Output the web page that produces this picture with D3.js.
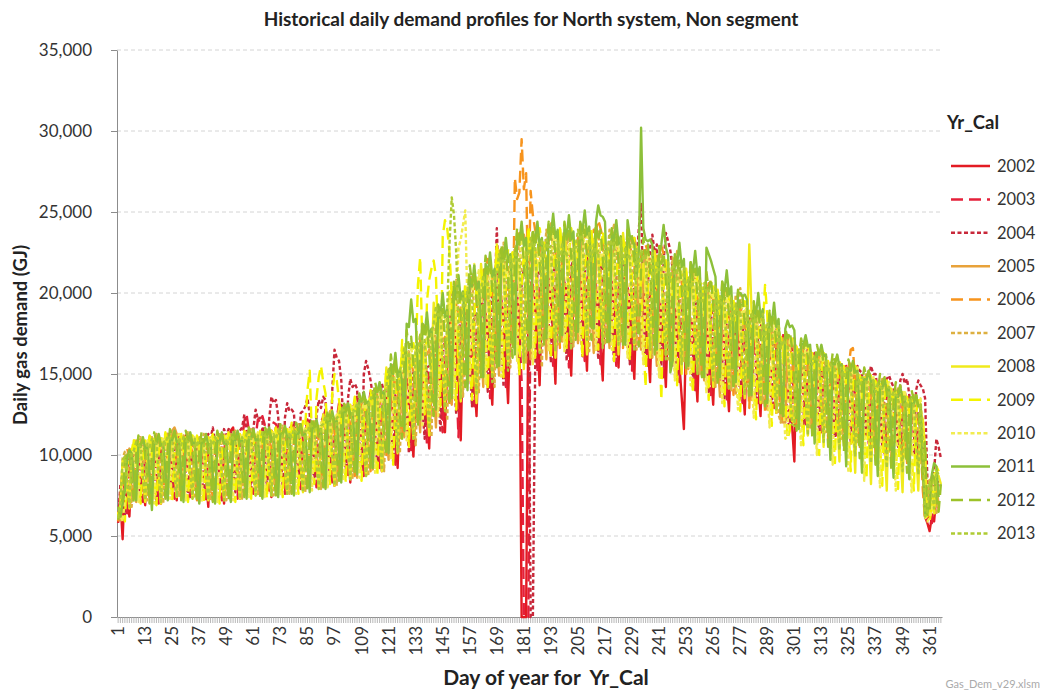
<!DOCTYPE html>
<html><head><meta charset="utf-8">
<script src="https://cdn.jsdelivr.net/npm/d3@7"></script>
<style>
body{margin:0;background:#fff;}
text{font-family:Lato,"Open Sans",sans-serif;}
</style>
</head><body>
<svg id="chart" width="1043" height="691"></svg>
<script>
const years = ["2002","2003","2004","2005","2006","2007","2008","2009","2010","2011","2012","2013"];
const colors = ["#E31B23","#E5203A","#C8283A","#E8A23A","#F7941D","#DDB040","#F0EA1C","#F4F400","#F2EC50","#8DC03A","#9DC229","#AFCB33"];
const dashes = [null,"12,6","4,2.5",null,"12,6","4,2.5",null,"12,6","4,2.5",null,"12,6","4,2.5"];
const yTicks = [0,5000,10000,15000,20000,25000,30000,35000];
const xLabelDays = [1,13,25,37,49,61,73,85,97,109,121,133,145,157,169,181,193,205,217,229,241,253,265,277,289,301,313,325,337,349,361];

const y2002 = [
6000,7200,4800,8500,7500,6200,9200,
10400,10800,10500,9900,8400,6900,10300,
11100,10600,10900,10100,8800,7000,10000,
10700,11300,11000,10400,8600,7200,10600,
11000,10500,11200,10300,9000,7500,9900,
10500,10800,10400,10000,8500,6800,10300,
11200,10700,11000,10200,8800,7000,10400,
11000,11500,11700,10800,9100,7300,10400,
11400,10800,11200,10700,9300,7700,10500,
11100,11600,11300,10600,9000,7400,11000,
11700,11100,11500,10900,9400,7600,10800,
11400,11800,11200,11000,9200,7900,11200,
12100,11600,11900,11300,9800,8000,11100,
12500,11900,12300,11600,9700,8100,12000,
12700,13100,12600,12100,10400,8300,12300,
13300,12800,13100,12400,10500,8800,12600,
13600,13100,13800,12800,10800,9000,12700,
13500,14000,13600,13000,11300,9200,13200,
14900,14300,14700,14000,12000,9900,13900,
15000,15500,15100,14600,12700,10400,14700,
16600,16000,16700,15600,13300,11400,15500,
17600,19600,18400,16800,14400,10900,17200,
18100,17400,18000,17600,14600,12400,17000,
18500,19000,18700,17800,15300,13100,18200,
19600,18800,19400,18700,16000,13200,18400,
19700,20300,19500,19100,0,0,0,
19300,19800,20400,19600,17000,14300,19700,
20800,20100,20600,19600,17400,14400,20200,
20400,20900,20600,20100,17200,14900,19800,
21000,20500,21200,19900,17800,15200,20300,
20300,20800,20100,19700,16800,14600,20000,
20700,19900,20400,19600,17500,15400,19700,
20000,20500,20300,19900,17000,14700,20100,
20100,19500,19800,19200,16800,14500,19600,
19300,19700,19500,18700,16500,14200,18800,
19200,18600,19000,18500,15600,13600,11600,
17800,18500,18300,18000,15700,13300,18200,
18100,17500,17900,17200,15100,13100,17700,
17600,18000,17700,17400,14800,12700,17200,
17500,16900,17300,16700,14700,12500,17000,
17000,17300,17100,16800,14400,12400,16600,
17600,17100,17700,16900,14800,12600,17000,
16700,17100,16800,16300,14200,11800,9600,
16500,15900,16400,15700,13500,11500,16000,
15700,16100,15800,15500,13300,11300,15300,
15600,15000,15400,14900,12700,10900,15100,
14900,15300,15100,14500,12700,10600,14800,
14800,14200,14600,14100,12100,10400,14300,
14000,14400,14200,13800,11900,10000,13700,
13900,13300,13700,13100,11400,9700,13400,
13000,13400,13200,12800,10900,9400,12700,
10500,6200,5800,5300,6200,5900,7500,
8200];

const y2003 = [
5800,7800,8900,7600,6400,9300,9900,
10300,10800,10000,8600,7100,10100,10700,
11000,10600,10300,8900,7000,10200,10800,
10800,11300,10400,9100,7300,10600,10900,
11100,10700,10600,8800,7400,10200,11000,
10600,11000,10200,8900,7100,10500,10600,
11200,10800,10700,8700,7200,10300,11100,
10900,11400,10500,9000,7300,10800,10900,
12100,12500,11500,9400,7600,11100,12200,
12000,12400,11900,9300,7800,11500,12000,
11900,11600,11400,9400,7600,11000,11800,
11500,12000,11100,9500,7900,11300,11400,
12200,11800,11600,9600,8000,11200,12100,
12300,12800,11900,10100,8100,12100,12200,
13200,12700,12600,10300,8700,12100,13000,
13100,13600,12700,10800,8700,12800,13000,
13900,13500,13300,10900,9200,12800,13700,
13700,14200,13200,11500,9400,13500,13600,
15000,14500,14400,12100,10300,14000,14900,
15300,15800,14800,12900,10700,15100,15200,
16900,16400,16300,13600,11400,15800,16800,
17700,18300,17100,14800,11100,17000,18000,
18800,18300,18200,15300,13000,17700,18700,
19200,19800,18600,16200,13500,19000,19100,
20400,19900,19800,16700,14200,19300,20300,
20700,21300,20100,17500,14600,0,0,
0,20800,20600,17600,15100,20200,21300,
21500,21000,20900,17900,15500,20500,21400,
21100,21800,20600,18400,15400,21100,21200,
21800,21200,21100,18100,15800,20700,21700,
21000,21600,20500,18300,15600,20900,21000,
21400,20800,20700,17800,15500,20200,21300,
20700,21300,20200,18000,15200,20600,20700,
20900,20400,20300,17600,15500,19800,20800,
19900,20500,19300,17400,14800,19700,19800,
19800,19300,19200,16600,14500,18800,19700,
19000,19600,18400,16400,14000,18900,18900,
18900,18400,18200,15700,13700,17800,18800,
18200,18700,17600,15700,13300,18000,18100,
18300,17800,17600,15200,13200,17200,18200,
18000,18600,17400,15600,13200,17800,17900,
17800,17300,17200,14800,12900,16800,17700,
16800,17400,16200,14400,12100,12000,17100,
16600,16200,16000,13700,11900,15600,16500,
15800,16300,15200,13600,11400,15600,15700,
15700,15300,15100,12900,11200,14700,15600,
15000,15500,14400,12900,10800,14800,14900,
14900,14500,14300,12300,10700,13900,14800,
14100,14600,13500,12100,10100,13900,14000,
14000,13600,13400,11500,10000,13000,13900,
13100,13600,12500,11300,9500,12800,13000,
10800,6400,6000,6300,5800,7600,8200,
8400];

const y2004 = [
5900,8200,7400,6300,9100,9800,10100,
10400,10000,8600,7100,10300,10800,10400,
11000,10300,8900,7000,10200,11000,10600,
10900,10700,8900,7600,10800,10900,11100,
11200,10400,9000,7200,10300,11100,10700,
11100,10900,8900,7500,11000,11300,11000,
11700,10800,9200,7400,10800,11600,11200,
11600,11500,9100,7700,11400,11500,11700,
12500,11500,9600,7700,11600,12800,12200,
12300,12200,9600,8100,12200,13600,13200,
13400,12400,10100,8100,12300,13200,12700,
12800,12600,9900,8300,12600,12700,13000,
13500,12500,10300,8200,12400,13400,12900,
13600,13400,10400,8600,14000,16500,16000,
15800,14600,11600,8900,13500,14700,14200,
14400,14100,11200,9200,15000,15800,15300,
14600,13600,11400,9200,13500,14400,13900,
13800,13600,11300,9600,13700,13800,14100,
15100,14000,12300,10100,14200,15100,14600,
15500,15200,12900,11000,15400,15500,15800,
17100,16000,13900,11400,16200,17100,16600,
18000,17700,14800,12500,17500,18400,17900,
19100,18000,15700,13000,18600,18700,19000,
19500,19300,16300,13900,19000,19900,19400,
24000,19600,17100,14200,20300,20200,20700,
21100,20900,17600,15100,20600,21500,21000,
21600,0,0,15100,21300,21200,21700,
21600,21400,18200,15700,21000,22000,21500,
22200,20900,18600,15800,21700,21600,22100,
21700,21600,18500,16100,21200,22300,21700,
22100,20800,18600,15900,21600,21500,22000,
21300,21200,18200,15800,20800,21900,21300,
21800,20500,18300,15600,21300,21200,21700,
24000,25500,19500,15600,20400,22800,23600,
22500,23000,18800,15500,22000,23700,23200,
22600,21500,17800,14600,20000,20400,20300,
19800,18600,16700,14200,19300,19400,19700,
18800,18600,15900,13900,18300,19300,18700,
19100,17900,15900,13500,18600,18500,19000,
18100,17900,15400,13400,17600,18500,18000,
18500,17200,15500,13100,18000,17900,18400,
17400,17200,14700,12800,16900,17800,17300,
17300,16000,14300,12000,11800,16800,17200,
16200,16000,13600,11800,15800,16600,16100,
16200,15100,13500,11300,15800,15700,16100,
15300,15100,12800,11100,14900,15700,15200,
15400,14300,12800,10700,15000,15000,15500,
15200,15100,12700,11100,14700,15500,15000,
15000,14000,12400,10500,14600,14700,14900,
14500,14200,12100,10500,14600,15000,14400,
14700,13700,12100,10100,14000,14600,14300,
14100,13500,8500,7000,6800,9000,11000,
10500,9800];

const y2005 = [
6500,6000,7200,8000,10000,10400,10200,
8600,7100,10100,10700,10400,10800,10100,
8900,7000,10300,11000,10600,10900,10200,
9000,7300,10500,11500,11700,11300,10500,
8800,7400,10400,11100,10700,11000,10400,
8900,7100,10300,10900,10500,11000,10300,
8700,7300,10400,11000,10700,11100,10400,
9000,7200,10500,11200,10800,11100,10600,
9200,7600,10600,11300,10900,11200,10700,
9000,7400,10700,11400,11000,11300,10600,
9300,7700,10800,11500,11100,11400,10900,
9200,7600,10900,11600,11200,11500,10800,
9700,8000,11200,11900,11500,11800,11200,
9800,8000,11700,12400,12000,12300,11700,
10400,8600,12200,12900,12500,12800,12200,
10500,8600,12500,13200,12800,13100,12500,
11000,9100,12900,13600,13200,13500,12900,
11700,9700,13800,14500,14100,14400,13800,
13200,11100,15500,16200,15800,16100,15500,
13600,11400,15900,16600,16200,16500,15900,
14400,11700,16700,17400,17000,17300,16700,
15800,13100,18500,19200,18800,19100,18500,
17100,14400,20300,21000,20600,20900,20300,
16900,14200,19500,20200,19800,20100,19500,
17800,14900,21000,21700,21300,21600,21000,
19500,16600,23000,23700,23300,23600,23000,
18800,15900,22000,22700,22300,22600,22000,
18700,15900,21500,22200,21800,22100,21500,
19700,17000,23000,23700,23300,23600,23000,
19600,16900,22500,23200,22800,23100,22500,
19000,16300,21700,22400,22000,22300,21700,
19300,16600,22100,22800,22400,22700,22100,
19700,17000,22800,23500,23100,23400,22800,
19000,16500,21500,22200,21800,22100,21500,
18000,15500,20600,21300,20900,21200,20600,
18000,15500,20500,21200,20800,21100,20500,
17700,15300,20600,21300,20900,21200,20600,
17000,14600,19400,20100,19700,20000,19400,
15900,13600,18300,19000,18600,18900,18300,
16100,13800,18300,19000,18600,18900,18300,
15600,13400,18000,18700,18300,18600,18000,
14900,12800,17000,17700,17300,17600,17000,
14100,12000,12000,17100,16700,17000,16400,
13800,11800,15800,16500,16100,16400,15800,
13300,11300,15400,16100,15700,16000,15400,
13000,11100,14900,15600,15200,15500,14900,
12600,10700,14600,15300,14900,15200,14600,
12400,10600,14100,14800,14400,14700,14100,
11800,10000,13700,14400,14000,14300,13700,
11600,9900,13200,13900,13500,13800,13200,
11000,9400,12700,13400,13000,13300,12700,
8800,6200,6400,6800,8400,8800,8500,
6800];

const y2006 = [
5900,6500,7500,9900,10300,10100,8400,
7200,10400,10300,10900,10400,9800,8700,
7000,10600,10500,11100,10600,10000,8800,
7400,10800,10700,11300,10800,10200,9000,
7300,10700,10600,11200,10700,10100,8900,
7200,10600,10500,11100,10600,10000,8800,
7200,10700,10600,11200,10700,10100,8800,
7300,10800,10700,11300,10800,10200,8900,
7500,10900,10800,11400,10900,10300,9100,
7500,11000,10900,11500,11000,10400,9100,
7600,11100,11000,11600,11100,10500,9200,
7700,11200,11100,11700,11200,10600,9300,
7900,11500,11400,12000,11500,10900,9600,
8100,12000,11900,12500,12000,11400,9900,
8500,12500,12400,13000,12500,11900,10300,
8700,12800,12700,13300,12800,12200,10600,
9000,13200,13100,13700,13200,12600,10900,
10000,14400,14300,14900,14400,13800,12000,
10900,15600,15600,16200,15700,15100,13100,
12400,17400,17400,18000,17500,16900,14700,
12500,17900,17900,18500,18000,17400,15000,
13000,18600,18700,19300,18800,18200,15800,
14200,20000,20100,20700,20200,19600,17000,
15300,21400,21500,22100,21600,21000,18100,
15500,21700,21800,22400,21900,21300,18400,
16800,27100,25800,26200,29500,26400,27400,
19000,26300,24800,23900,23600,23200,19500,
16900,23200,23200,23800,23300,22700,19800,
16600,22500,22500,23100,22600,22000,19400,
17300,23400,23400,24000,23500,22900,20100,
17800,23900,23900,24500,24000,23400,20500,
17000,23000,23000,23600,23100,22500,19800,
16600,22300,22300,22900,22400,21800,19300,
16900,22400,22400,23000,22500,21900,19500,
16800,22300,22300,22900,22400,21800,19300,
15900,21300,21300,21900,21400,20800,18400,
15000,20100,20100,20700,20200,19600,17500,
14800,20000,20000,20600,20100,19500,17200,
14400,19700,19600,20200,19700,19100,16700,
13700,18600,18500,19100,18600,18000,16000,
12900,17500,17400,18000,17500,16900,15100,
12700,17300,17200,17800,17300,16700,14800,
12100,12000,16600,17200,16700,16100,14200,
11700,16100,16000,16600,16100,15500,13700,
11400,15700,15600,16200,15700,15100,13400,
11000,15200,15100,15700,15200,14600,12900,
10800,14900,15300,16500,16600,14300,12700,
10500,14400,14300,14900,14400,13800,12300,
10100,14000,13900,14500,14000,13400,11900,
9800,13500,13400,14000,13500,12900,11500,
9500,13000,12900,13500,13000,12400,11100,
7800,6000,6300,8200,8700,8500,7600,
6600];

const y2007 = [
6000,6900,9800,10200,10000,8300,6800,
9800,10900,10400,11100,10000,8700,7200,
10000,11100,10600,11300,10200,8800,7000,
10200,11300,10800,11500,10400,9000,7400,
10100,11200,10700,11400,10300,8900,7300,
10000,11100,10600,11300,10200,8800,7200,
10100,11200,10700,11400,10300,8800,7200,
10200,11300,10800,11500,10400,8900,7300,
10300,11400,10900,11600,10500,9100,7500,
10400,11500,11000,11700,10600,9100,7500,
10500,11600,11100,11800,10700,9200,7600,
10600,11700,11200,11900,10800,9300,7700,
10900,12000,11500,12200,11100,9600,7900,
11400,12500,12000,12700,11600,9900,8100,
11900,13000,12500,13200,12100,10300,8500,
12200,13300,12800,13500,12400,10600,8700,
12600,13700,13200,13900,12800,10900,9000,
13500,15300,14400,15700,13800,12100,10100,
14200,16000,15100,16400,14500,12700,10600,
14600,16400,15500,16800,14900,13300,11100,
16500,18300,17400,18700,16800,14600,12100,
18600,20400,19500,20800,18900,16300,13600,
18600,20400,19500,20800,18900,16500,13800,
19000,20800,19900,21200,19300,16900,14200,
20900,22700,21800,23100,21200,18300,15400,
21100,22900,22000,23300,21400,18600,15700,
20500,22300,21400,22700,20800,18300,15400,
22100,23900,23000,24300,22400,19600,16800,
21700,23500,22600,23900,22000,19400,16700,
21200,23000,22100,23400,21500,19100,16400,
21600,23400,22500,23800,21900,19500,16800,
22100,23900,23000,24300,22400,19700,17000,
21300,23100,22200,23500,21600,19200,16500,
20300,22100,21200,22500,20600,18500,16000,
20300,22100,21200,22500,20600,18400,15900,
20400,22200,21300,22600,20700,18300,15800,
19300,21100,20200,21500,19600,17400,15000,
18300,20100,19200,20500,18600,16600,14200,
18100,19900,19000,20300,18400,16300,14000,
18100,19900,19000,20300,18400,16400,14100,
16900,18700,17800,19100,17200,15400,13200,
16000,17800,16900,18200,16300,14600,12500,
12000,17200,16700,17400,16300,14200,12100,
15500,16600,16100,16800,15700,13700,11700,
15100,16200,15700,16400,15300,13400,11400,
14600,15700,15200,15900,14800,12900,11000,
14300,15400,14900,15600,14500,12700,10800,
13800,14900,14400,15100,14000,12300,10500,
13400,14500,14000,14700,13600,11900,10100,
12900,14000,13500,14200,13100,11500,9800,
12400,13500,13000,13700,12600,11100,9500,
10600,6100,6400,8600,8400,7300,6300,
8000];

const y2008 = [
6200,7000,9600,9800,8200,6700,10000,
10900,10100,10800,9800,8600,7100,10000,
11100,10300,11000,10000,8700,7000,10200,
11300,10500,11200,10200,9000,7400,10400,
11200,10400,11100,10100,8900,7300,10300,
11100,10300,11000,10000,8800,7200,10200,
11200,10400,11100,10100,8800,7200,10300,
11300,10500,11200,10200,8900,7300,10400,
11400,10600,11300,10300,9100,7500,10500,
11500,10700,11400,10400,9100,7500,10600,
11600,10800,11500,10500,9200,7600,10700,
11700,10900,11600,10600,9300,7700,10800,
12000,11200,11900,10900,9600,7900,11100,
12500,11700,12400,11400,9900,8100,11600,
13000,12200,12900,11900,10300,8500,12100,
13300,12500,13200,12200,10600,8700,12400,
13700,12900,13600,12600,10900,9000,12800,
15400,13900,15100,13500,12100,10100,13900,
16700,15200,16400,14800,13200,11000,15200,
16700,15200,16500,14800,13300,11200,15200,
19400,17900,19100,17500,15400,12800,17900,
20100,18600,19800,18200,16000,13300,18600,
19700,18200,19400,17800,15800,13200,18200,
21800,20300,21500,19900,17600,14900,20300,
23000,21500,22700,21100,18600,15600,21500,
22500,21000,22200,20600,18200,15300,21000,
23800,22300,23500,21900,19400,16400,22300,
22900,21400,22600,21000,19300,16000,21400,
24000,22500,23700,22100,19800,17000,22500,
22900,21400,22600,21000,18900,16200,21400,
23800,22300,23500,21900,19700,17000,22300,
22900,21400,22600,21000,18900,16200,21400,
23700,22200,23400,21800,19500,16800,22200,
22100,20600,21800,20200,18400,16000,20600,
22600,21100,22300,20700,18700,16200,21100,
21200,19700,20900,19300,17400,15000,19700,
21500,20000,21200,19600,17700,15200,20000,
20200,18700,19900,18300,16500,14200,18700,
20200,18700,19900,18300,16500,14100,18700,
19200,17700,18900,17300,15700,13500,17700,
23000,18900,18600,16900,15500,13200,17400,
18000,16500,17700,16100,14700,12600,16500,
17200,16400,17100,16100,14200,12100,12000,
16600,15800,16500,15500,13700,11200,15700,
16200,15400,16100,15100,13100,10500,15300,
15700,14900,15600,14600,12400,9600,14800,
15400,14600,15300,14300,11900,8900,14500,
14900,14100,14800,13800,11300,8200,14000,
14500,13700,14400,13400,10800,7800,13600,
14000,13200,13900,12900,10500,7700,13100,
13500,12700,13400,12400,10300,7800,12600,
12200,10400,6300,6500,7000,6400,8900,
8700,8200];

const y2009 = [
6300,6800,6400,5900,9400,10000,10200,
11000,9900,8600,7000,9800,10900,10400,
11200,10100,8700,6900,10000,11100,10600,
11400,10300,8900,7200,10200,11300,10800,
11300,10200,8800,7100,10100,11200,10700,
11200,10100,8700,7000,10000,11100,10600,
11300,10200,8700,7000,10100,11200,10700,
11400,10300,8800,7100,10200,11300,10800,
11500,10400,9000,7300,10300,11400,10900,
11600,10500,9000,7300,10400,11500,11000,
11700,10600,9100,7400,10500,11600,11100,
12000,10900,9300,7600,10900,12100,11800,
14000,15200,11000,8200,13500,14800,15500,
14500,13800,10500,8200,13800,15000,14600,
13400,12200,10200,8300,11900,13100,12600,
13600,12500,10400,8400,12200,13400,12900,
14000,12900,10700,8700,12600,13800,13300,
15300,13500,11500,9400,13200,15100,14200,
17100,15200,13000,10500,15000,16900,16000,
20500,22200,16500,12500,19500,20800,21500,
22000,21000,16800,13000,23500,24500,24000,
22500,19900,16200,12800,17700,19800,18900,
20600,18700,16000,13400,18600,20500,19600,
21400,19500,16800,14000,19400,21300,20400,
22800,20900,17900,14800,20800,22700,21800,
22500,20600,17800,14900,20500,22400,21500,
24100,22200,19100,16000,22100,24000,23100,
23100,21200,18600,15900,21100,23000,22100,
24100,22200,19400,16500,22100,24000,23100,
23200,21300,18700,16000,21200,23100,22200,
23900,22000,19300,16500,21900,23800,22900,
22800,20900,18400,15800,20800,22700,21800,
23500,21600,18800,15800,21500,23400,22500,
22000,20100,17200,14200,20000,21900,21000,
22300,20400,17300,13400,20300,22200,21300,
21400,19500,16900,14300,19400,21300,20400,
21300,19400,16600,13800,19300,21200,20300,
20700,18800,16100,13400,18700,20600,19700,
20100,18200,15600,13000,18100,20000,19100,
19600,17700,15200,12700,17600,19500,18600,
18900,17000,14600,12200,16900,18800,17900,
20500,18600,14800,11800,16300,18200,17300,
17300,16100,13600,11000,11500,17200,16700,
16700,15500,13000,10600,15500,16700,16200,
16300,15100,12500,10000,15100,16300,15800,
15800,14600,12000,9500,14600,15800,15300,
15500,14300,11600,9000,14300,15500,15000,
15000,13800,11100,8500,13800,15000,14500,
14600,13400,10700,8100,13400,14600,14100,
14100,12900,10400,7900,12900,14100,13600,
13600,12400,10100,7800,12400,13600,13100,
11500,6300,6200,5900,6800,8600,9300,
9000];

const y2010 = [
6100,6300,5900,7200,9800,10200,10300,
10100,8600,7100,9700,11000,10400,10900,
10300,8700,7000,9900,11200,10600,11100,
10500,9000,7300,10100,11400,10800,11300,
10400,8900,7200,10000,11300,10700,11200,
10300,8800,7100,9900,11200,10600,11100,
10400,8800,7100,10000,11300,10700,11200,
10500,8900,7200,10100,11400,10800,11300,
10600,9100,7400,10200,11500,10900,11400,
10700,9100,7400,10300,11600,11000,11500,
10800,9200,7500,10400,11700,11100,11600,
10900,9300,7600,10500,11800,11200,11700,
11200,9600,7800,10800,12100,11500,12000,
11700,9900,8000,11300,12600,12000,12500,
12200,10300,8400,11800,13100,12500,13000,
12500,10600,8600,12100,13400,12800,13300,
12900,10900,8900,12500,13800,13200,13700,
13900,11900,9800,13200,15400,14300,15200,
15200,13100,10900,14500,16700,15600,16500,
16300,14000,11700,15600,17800,16700,17600,
17800,15000,12400,17100,19300,18200,19100,
19500,16500,13500,18800,22800,23300,24200,
25100,19000,14500,19500,21800,20300,21400,
19900,17200,14400,19200,21400,20300,21200,
20400,17500,14700,19700,21900,20800,21700,
22000,18800,15800,21300,23500,22400,23300,
21200,18300,15600,20500,22700,21600,22500,
22300,19400,16400,21600,23800,22700,23600,
21600,19000,16400,20900,23100,22000,22900,
22700,19800,17000,22000,24200,23100,24000,
21600,19000,16400,20900,23100,22000,22900,
22200,19300,16500,21500,23700,22600,23500,
21400,18700,16000,20700,22900,21800,22700,
21100,18300,15600,20400,22600,21500,22400,
20200,17400,14800,19500,21700,20600,21500,
20300,17400,14600,19600,21800,20700,21600,
19800,17000,14300,19100,21300,20200,21100,
19200,16400,13800,18500,20700,19600,20500,
18600,15900,13200,17900,20100,19000,19900,
18100,15400,12800,17400,19600,18500,19400,
17400,14800,12300,16700,18900,17800,18700,
16800,14200,11700,16100,18300,17200,18100,
16400,13500,11000,11200,17300,16700,17200,
15800,13000,10500,15400,16700,16100,16600,
15400,12600,10000,15000,16300,15700,16200,
14900,12000,9400,14500,15800,15200,15700,
14600,11600,8900,14200,15500,14900,15400,
14100,11100,8400,13700,15000,14400,14900,
13700,10700,8000,13300,14600,14000,14500,
13200,10400,7800,12800,14100,13500,14000,
12700,10100,7700,12300,13600,13000,13500,
11000,6200,5900,6100,6800,8800,9200,
8600];

const y2011 = [
6800,6200,7000,7800,9800,10300,10100,
8700,7200,10600,10500,11100,10400,10500,
8600,6600,10700,10700,11300,10600,10700,
8900,7200,11000,10900,11500,10800,10900,
8800,7100,10900,10800,11400,10700,10800,
8700,7000,10800,10700,11300,10600,10700,
8700,7000,10900,10800,11400,10700,10800,
8800,7100,11000,10900,11500,10800,10900,
9000,7300,11100,11000,11600,10900,11000,
9000,7300,11200,11100,11700,11000,11100,
9100,7400,11300,11200,11800,11100,11200,
9200,7500,11400,11300,11900,11200,11300,
9500,7700,11700,11600,12200,11500,11600,
9800,7900,12200,12100,12700,12000,12100,
10200,8300,12700,12600,13200,12500,12600,
10700,8800,13400,13300,13900,13200,13300,
11300,9200,14000,13900,14500,13800,13900,
12300,10100,15600,15000,16300,14800,15300,
14500,11500,18100,17900,19600,18200,18400,
15200,12200,18100,17500,18800,17300,17800,
16000,12800,19300,18700,20000,18500,19000,
16800,13500,20400,19800,21100,19600,20100,
17300,14000,21000,20400,21700,20200,20700,
18000,14800,21800,21200,22500,21000,21500,
18800,15500,22700,22100,23400,21900,22400,
19500,16200,23700,23100,24400,22900,23400,
19700,16600,23700,23100,24400,22900,23400,
20200,17200,24200,23600,24900,23400,23900,
20300,17400,24100,23500,24800,23300,23800,
20500,17600,24400,23800,25100,23600,24100,
21000,17800,24400,25400,24800,24700,24400,
20000,17000,23800,23200,24500,23000,23500,
20000,16800,24500,23500,23300,23000,21000,
22500,30200,24000,23300,23200,23300,23000,
19300,16500,22300,23000,24200,22800,22300,
15100,15800,22400,21800,23100,21600,22100,
18500,15500,21900,21300,22600,21100,21600,
17500,14800,22800,22400,22000,21500,21000,
17400,14800,20700,20100,21400,19900,20400,
17100,14500,20000,20000,19800,19900,19600,
16200,13700,19300,18700,20000,18500,19000,
15700,13200,18700,18100,19400,17900,18400,
14900,12400,17800,18300,17900,18000,17700,
14500,11600,16900,16800,17400,16700,16800,
13900,10700,16300,16200,16800,16100,16200,
13300,9700,15700,15600,16200,15500,15600,
12900,9300,15300,15200,15800,15100,15200,
12300,8900,14700,14600,15200,14500,14600,
11900,8700,14200,14100,14700,14000,14100,
11500,8600,13700,13600,14200,13500,13600,
11100,8500,13200,13100,13700,13000,13100,
9200,6300,6500,6900,8800,9500,9300,
7400];

const y2012 = [
6000,6600,7400,9700,10200,10100,8400,
7000,10000,11200,10600,11000,10000,8700,
7000,10200,11400,10800,11200,10200,8800,
7300,10400,11600,11000,11400,10400,9000,
7200,10300,11500,10900,11300,10300,8900,
7100,10200,11400,10800,11200,10200,8800,
7100,10300,11500,10900,11300,10300,8800,
7200,10400,11600,11000,11400,10400,8900,
7400,10500,11700,11100,11500,10500,9100,
7400,10600,11800,11200,11600,10600,9100,
7500,10700,11900,11300,11700,10700,9200,
7600,10800,12000,11400,11800,10800,9300,
7800,11100,12300,11700,12100,11100,9600,
8000,11600,12800,12200,12600,11600,9900,
8400,12100,13300,12700,13100,12100,10300,
8800,12600,13800,13200,13600,12600,10800,
9200,13300,14500,13900,14300,13300,11300,
10000,14200,16200,15100,15800,14100,12300,
11000,15700,17700,16600,17300,15600,13500,
11800,16300,18300,17200,17900,16200,14100,
12400,17400,19400,18300,19000,17300,15000,
13300,18700,20700,19600,20300,18600,16100,
14200,19700,21700,20600,21300,19600,17000,
14800,20300,22300,21200,21900,20200,17600,
15300,21000,23000,21900,22600,20900,18200,
16000,22000,24000,22900,23600,21900,19000,
16300,22000,24000,22900,23600,21900,19100,
16700,22400,24400,23300,24000,22300,19500,
17000,22400,24400,23300,24000,22300,19600,
17100,22300,24300,23200,23900,22200,19600,
17100,22300,24300,23200,23900,22200,19600,
16800,22000,24000,22900,23600,21900,19300,
16800,21900,23900,22800,23500,21800,19300,
16700,21400,23400,22300,23000,21300,19000,
16200,20900,22900,21800,22500,20800,18500,
15700,20400,22400,21300,22000,20300,18000,
15300,19900,21900,20800,21500,19800,17500,
14800,19300,21300,20200,20900,19200,17000,
14300,18700,20700,19600,20300,18600,16500,
14000,18200,20200,19100,19800,18100,16200,
13500,17500,19500,18400,19100,17400,15600,
13000,16900,18900,17800,18500,16800,15100,
12400,12300,17800,17200,17600,16600,14500,
11500,16000,17200,16600,17000,16000,13800,
11000,15600,16800,16200,16600,15600,13400,
10500,15100,16300,15700,16100,15100,12900,
10200,14700,15900,15300,15700,14700,12600,
9800,14200,15400,14800,15200,14200,12100,
9400,13800,15000,14400,14800,13800,11700,
9100,13300,14500,13900,14300,13300,11400,
8900,12800,14000,13400,13800,12800,11000,
8600,10800,6300,6600,8800,8600,7400,
6500,8200];

const y2013 = [
6100,7100,9700,9900,8300,6800,10100,
10300,10800,10600,10500,8700,7200,10700,
10500,11000,10800,10700,8800,7100,10900,
10700,11200,11000,10900,9000,7400,11100,
10600,11100,10900,10800,8900,7300,11000,
10500,11000,10800,10700,8800,7200,10900,
10600,11100,10900,10800,8800,7200,11000,
10700,11200,11000,10900,8900,7300,11100,
10800,11300,11100,11000,9100,7500,11200,
10900,11400,11200,11100,9100,7500,11300,
11000,11500,11300,11200,9200,7600,11400,
11100,11600,11400,11300,9300,7700,11500,
11400,11900,11700,11600,9600,7900,11800,
11900,12400,12200,12100,9900,8100,12300,
12400,12900,12700,12600,10300,8500,12800,
12700,13200,13000,12900,10600,8700,13100,
13400,13900,13700,13600,11100,9200,13800,
14200,15300,14700,14900,12200,10200,15300,
15600,16700,16100,16300,13300,11000,16700,
16400,17500,16900,17100,14000,11600,17500,
18100,19200,18600,18800,15300,12700,19100,
23000,25900,24800,22500,17800,13500,20000,
19200,20300,19700,19900,16500,13800,20200,
20000,21100,20500,20700,17200,14500,21000,
21300,22400,21800,22000,18200,15200,22300,
21500,22600,22000,22200,18600,15700,22500,
22300,23400,22800,23000,19300,16300,23300,
22200,23300,22700,22900,19200,16400,23200,
21900,23000,22400,22600,19100,16500,22900,
22800,23900,23300,23500,19800,17100,23800,
21900,23000,22400,22600,19300,16600,22900,
22400,23500,22900,23100,19500,16800,23400,
21700,22800,22200,22400,19000,16400,22700,
21600,22700,22100,22300,19000,16500,22600,
20900,22000,21400,21600,18400,15900,21900,
20700,21800,21200,21400,18100,15600,21700,
19900,21000,20400,20600,17400,15000,20900,
19500,20600,20000,20200,17000,14600,20500,
18700,19800,19200,19400,16300,14000,19700,
18200,19300,18700,18900,16000,13700,19200,
17700,18800,18200,18400,15500,13300,18700,
17100,18200,17600,17800,14900,12800,18100,
16600,17100,16900,16800,14100,11900,11800,
16000,16500,16300,16200,13500,11200,16300,
15600,16100,15900,15800,13100,10800,15900,
15100,15600,15400,15300,12600,10300,15400,
14800,15300,15100,15000,12200,9900,15100,
14300,14800,14600,14500,11800,9500,14600,
13900,14400,14200,14100,11400,9200,14200,
13400,13900,13700,13600,11100,9000,13700,
12900,13400,13200,13100,10800,8800,13200,
10800,6200,6400,8400,7700,6700,9000,
8800];

const seriesValues = [y2002,y2003,y2004,y2005,y2006,y2007,y2008,y2009,y2010,y2011,y2012,y2013];

const svg = d3.select("#chart");
svg.append("rect").attr("width",1043).attr("height",691).attr("fill","#fff");

const dayCats = [];
for (let d = 1; d <= 366; d++) dayCats.push(d);

const x = d3.scaleBand().domain(dayCats).range([117, 942]);
const y = d3.scaleLinear().domain([0, 35000]).range([617, 50]);

svg.append("g").selectAll("line").data(yTicks.filter(t => t > 0)).join("line")
  .attr("x1", 117).attr("x2", 942)
  .attr("y1", d => y(d)).attr("y2", d => y(d))
  .attr("stroke", "#d4d4d4").attr("stroke-width", 1).attr("stroke-dasharray", "4,3");

const yAxis = svg.append("g").attr("transform", "translate(117,0)")
  .call(d3.axisLeft(y).tickValues(yTicks).tickFormat(d3.format(",")).tickSize(6).tickSizeOuter(0).tickPadding(19));
yAxis.select(".domain").attr("stroke", "#8c8c8c");
yAxis.selectAll(".tick line").attr("stroke", "#8c8c8c");
yAxis.selectAll("text").attr("font-size", 17).attr("fill", "#333").attr("font-family", "Lato");

const xAxis = svg.append("g").attr("transform", "translate(0,617)")
  .call(d3.axisBottom(x).tickValues(dayCats).tickFormat(d => xLabelDays.includes(d) ? String(d) : "").tickSize(6).tickSizeOuter(0));
xAxis.select(".domain").attr("stroke", "#8c8c8c");
xAxis.selectAll(".tick line").attr("stroke", "#a6a6a6").attr("stroke-width", 0.8);
xAxis.selectAll("text")
  .attr("transform", "rotate(-90)")
  .attr("text-anchor", "end")
  .attr("x", -9).attr("y", 0).attr("dy", "0.35em")
  .attr("font-size", 17).attr("fill", "#333").attr("font-family", "Lato");

const line = d3.line()
  .x((d, i) => x(i + 1) + x.bandwidth() / 2)
  .y(d => y(d));

const lineG = svg.append("g").attr("fill", "none");
seriesValues.forEach((vals, i) => {
  lineG.append("path")
    .datum(vals)
    .attr("d", line)
    .attr("stroke", colors[i])
    .attr("stroke-width", 2.4)
    .attr("stroke-linejoin", "round")
    .attr("stroke-dasharray", dashes[i]);
});

svg.append("text").attr("x", 531).attr("y", 26).attr("text-anchor", "middle")
  .attr("font-size", 19).attr("font-weight", "bold").attr("fill", "#222")
  .text("Historical daily demand profiles for North system, Non segment");

svg.append("text").attr("transform", "translate(27,335) rotate(-90)").attr("text-anchor", "middle")
  .attr("font-size", 18.5).attr("font-weight", "bold").attr("fill", "#222")
  .text("Daily gas demand (GJ)");
svg.append("text").attr("x", 546).attr("y", 685).attr("text-anchor", "middle")
  .attr("font-size", 21).attr("font-weight", "bold").attr("fill", "#222")
  .style("white-space", "pre")
  .text("Day of year for  Yr_Cal");

const leg = svg.append("g");
leg.append("text").attr("x", 947).attr("y", 129).attr("font-size", 18.5).attr("font-weight", "bold").attr("fill", "#222").text("Yr_Cal");
years.forEach((yr, i) => {
  const ly = 166 + i * 33.4;
  leg.append("line").attr("x1", 951).attr("x2", 990).attr("y1", ly).attr("y2", ly)
    .attr("stroke", colors[i]).attr("stroke-width", 2.5).attr("stroke-dasharray", dashes[i]);
  leg.append("text").attr("x", 997).attr("y", ly).attr("dy", "0.35em")
    .attr("font-size", 16.5).attr("fill", "#333").text(yr);
});

svg.append("text").attr("x", 1040).attr("y", 688).attr("text-anchor", "end")
  .attr("font-size", 11).attr("fill", "#aaa").text("Gas_Dem_v29.xlsm");
</script>
</body></html>
